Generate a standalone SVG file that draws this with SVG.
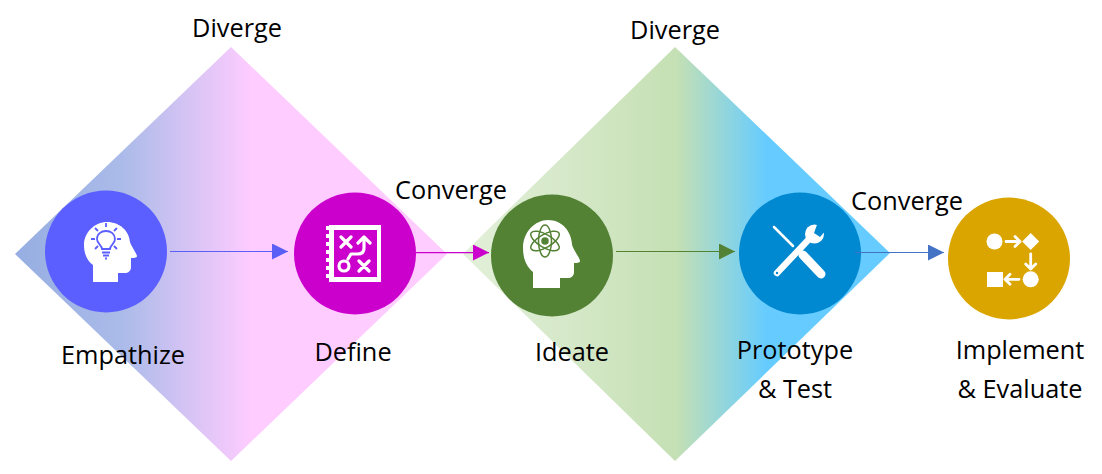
<svg xmlns="http://www.w3.org/2000/svg" width="1102" height="474" viewBox="0 0 1102 474">
<style>
text{font-family:"Open Sans","Noto Sans","Liberation Sans",sans-serif;font-size:25.300px;fill:#000;text-anchor:middle}
.w{fill:#fff}
.ws{fill:none;stroke:#fff;stroke-linecap:round;stroke-linejoin:round}
</style>
<defs>
<linearGradient id="g1" gradientUnits="userSpaceOnUse" x1="15" y1="0" x2="447" y2="0">
<stop offset="0" stop-color="#96AEE2"/><stop offset="0.25" stop-color="#ABBBE9"/><stop offset="0.55" stop-color="#FFCCFF"/><stop offset="1" stop-color="#FFCCFF"/>
</linearGradient>
<linearGradient id="g2" gradientUnits="userSpaceOnUse" x1="463" y1="0" x2="890" y2="0">
<stop offset="0" stop-color="#E2F0D9"/><stop offset="0.25" stop-color="#D5E8C8"/><stop offset="0.5" stop-color="#C5E0B4"/><stop offset="0.71" stop-color="#66CCFF"/><stop offset="1" stop-color="#66CCFF"/>
</linearGradient>
<marker id="mb" markerUnits="userSpaceOnUse" markerWidth="16" markerHeight="16" refX="16" refY="8" orient="auto"><path d="M0 0L16 8L0 16Z" fill="#5B5FF5"/></marker>
<marker id="mm" markerUnits="userSpaceOnUse" markerWidth="16" markerHeight="16" refX="16" refY="8" orient="auto"><path d="M0 0L16 8L0 16Z" fill="#CC00CC"/></marker>
<marker id="mg" markerUnits="userSpaceOnUse" markerWidth="16" markerHeight="16" refX="16" refY="8" orient="auto"><path d="M0 0L16 8L0 16Z" fill="#548235"/></marker>
<marker id="ml" markerUnits="userSpaceOnUse" markerWidth="16" markerHeight="16" refX="16" refY="8" orient="auto"><path d="M0 0L16 8L0 16Z" fill="#4472C4"/></marker>
</defs>

<g id="diamond-1"><polygon points="15,254 231,47 447,254 231,461" fill="url(#g1)"/></g>
<g id="diamond-2"><polygon points="463,254 675,47 890,253 675,461" fill="url(#g2)"/></g>

<g id="node-empathize">
<circle cx="106" cy="251.500" r="61" fill="#5B5FFF"/>
<path class="w" d="M93 282V265C86 260 84 252 84 245C84 232 95 222 107 222C120 222 129 231 130 242C130 244 137 254 137 256C137 258 133 258 131 258V267C131 271 128 273 125 273H118V282Z"/>
<path d="M102 249C102 245 97 244 97 239C97 234 101 231 106 231C111 231 115 234 115 239C115 244 110 245 110 249Z" fill="none" stroke="#5B5FFF" stroke-width="1.800"/>
<path d="M102 252.500H110M103 255.500H109M105 258.500H107M106 223V227M91 239H95M117 239H121M95 228L98 231M117 228L114 231M95 249L98 246M117 249L114 246" stroke="#5B5FFF" stroke-width="1.800" fill="none"/>
<text x="123" y="364">Empathize</text>
</g>

<g id="node-define">
<circle cx="355" cy="253.500" r="61" fill="#CC00CC"/>
<path class="w" fill-rule="evenodd" d="M329 225H381V282H329V278H326V274H329V270H326V266H329V262H326V258H329V254H326V250H329V246H326V242H329V238H326V234H329V230H326V226H329ZM334 230V277H377V230Z"/>
<path class="ws" stroke-width="3.200" d="M341 237L351 247M351 237L341 247M359 261L369 271M369 261L359 271M348 259L351 254H358C362 254 364 252 364 248V238M358 243L364 237L370 243"/>
<circle cx="344" cy="266" r="5" fill="none" stroke="#fff" stroke-width="3.200"/>
<text x="353" y="361">Define</text>
</g>

<g id="node-ideate">
<circle cx="552" cy="255.500" r="61" fill="#548235"/>
<path class="w" d="M533 288V272C526 266 523 258 523 248C523 232 535 220 548 220C562 220 571 231 572 244C572 248 580 258 580 261C580 263 576 263 574 263V272C574 276 571 278 568 278H560V288Z"/>
<g fill="none" stroke="#548235" stroke-width="1.500">
<ellipse cx="545" cy="241" rx="16" ry="6.500" transform="rotate(30 545 241)"/>
<ellipse cx="545" cy="241" rx="16" ry="6.500" transform="rotate(-30 545 241)"/>
<ellipse cx="545" cy="241" rx="6.500" ry="16"/>
<circle cx="545" cy="241" r="3" fill="#548235"/>
</g>
<text x="572" y="361">Ideate</text>
</g>

<g id="node-prototype">
<circle cx="800" cy="253.500" r="61" fill="#0088D0"/>
<path d="M774 227L793 246" stroke="#fff" stroke-width="2.500" stroke-linecap="round"/>
<path d="M803 255L821 274" stroke="#fff" stroke-width="9" stroke-linecap="round"/>
<path d="M777 273L812 236" stroke="#fff" stroke-width="6.500" stroke-linecap="round"/>
<circle cx="814.500" cy="234" r="9.500" class="w"/>
<polygon points="814,233 818,222 828,228 820,237" fill="#0088D0"/>
<circle cx="777" cy="273" r="1.200" fill="#0088D0"/>
<text x="795" y="359">Prototype</text>
<text x="795" y="398">&amp; Test</text>
</g>

<g id="node-implement">
<circle cx="1009" cy="258.500" r="61" fill="#DBA500"/>
<circle cx="994.500" cy="241.500" r="8" class="w"/>
<path class="w" d="M1030.700 233L1039.200 241.500L1030.700 250L1022.200 241.500Z"/>
<path class="w" d="M987 272H1003V287H987Z"/>
<circle cx="1030.700" cy="279.300" r="8" class="w"/>
<path class="ws" stroke-width="2.800" d="M1006 241.500H1020M1015 236.500L1020 241.500L1015 246.500M1030.700 254V269M1025.700 264L1030.700 269L1035.700 264M1019 279.300H1005M1010 274.300L1005 279.300L1010 284.300"/>
<text x="1020" y="359">Implement</text>
<text x="1020" y="398">&amp; Evaluate</text>
</g>

<g id="connectors" fill="none" stroke-width="1">
<line x1="170" y1="251.500" x2="288" y2="251.500" stroke="#5B5FF5" marker-end="url(#mb)"/>
<line x1="416" y1="252.500" x2="489" y2="252.500" stroke="#CC00CC" stroke-width="1.250" marker-end="url(#mm)"/>
<line x1="616" y1="251.500" x2="735" y2="251.500" stroke="#548235" marker-end="url(#mg)"/>
<line x1="855" y1="252.500" x2="944" y2="252.500" stroke="#4472C4" marker-end="url(#ml)"/>
</g>

<g id="labels">
<text x="237" y="37">Diverge</text>
<text x="675" y="39">Diverge</text>
<text x="451" y="199">Converge</text>
<text x="907" y="210">Converge</text>
</g>
</svg>
